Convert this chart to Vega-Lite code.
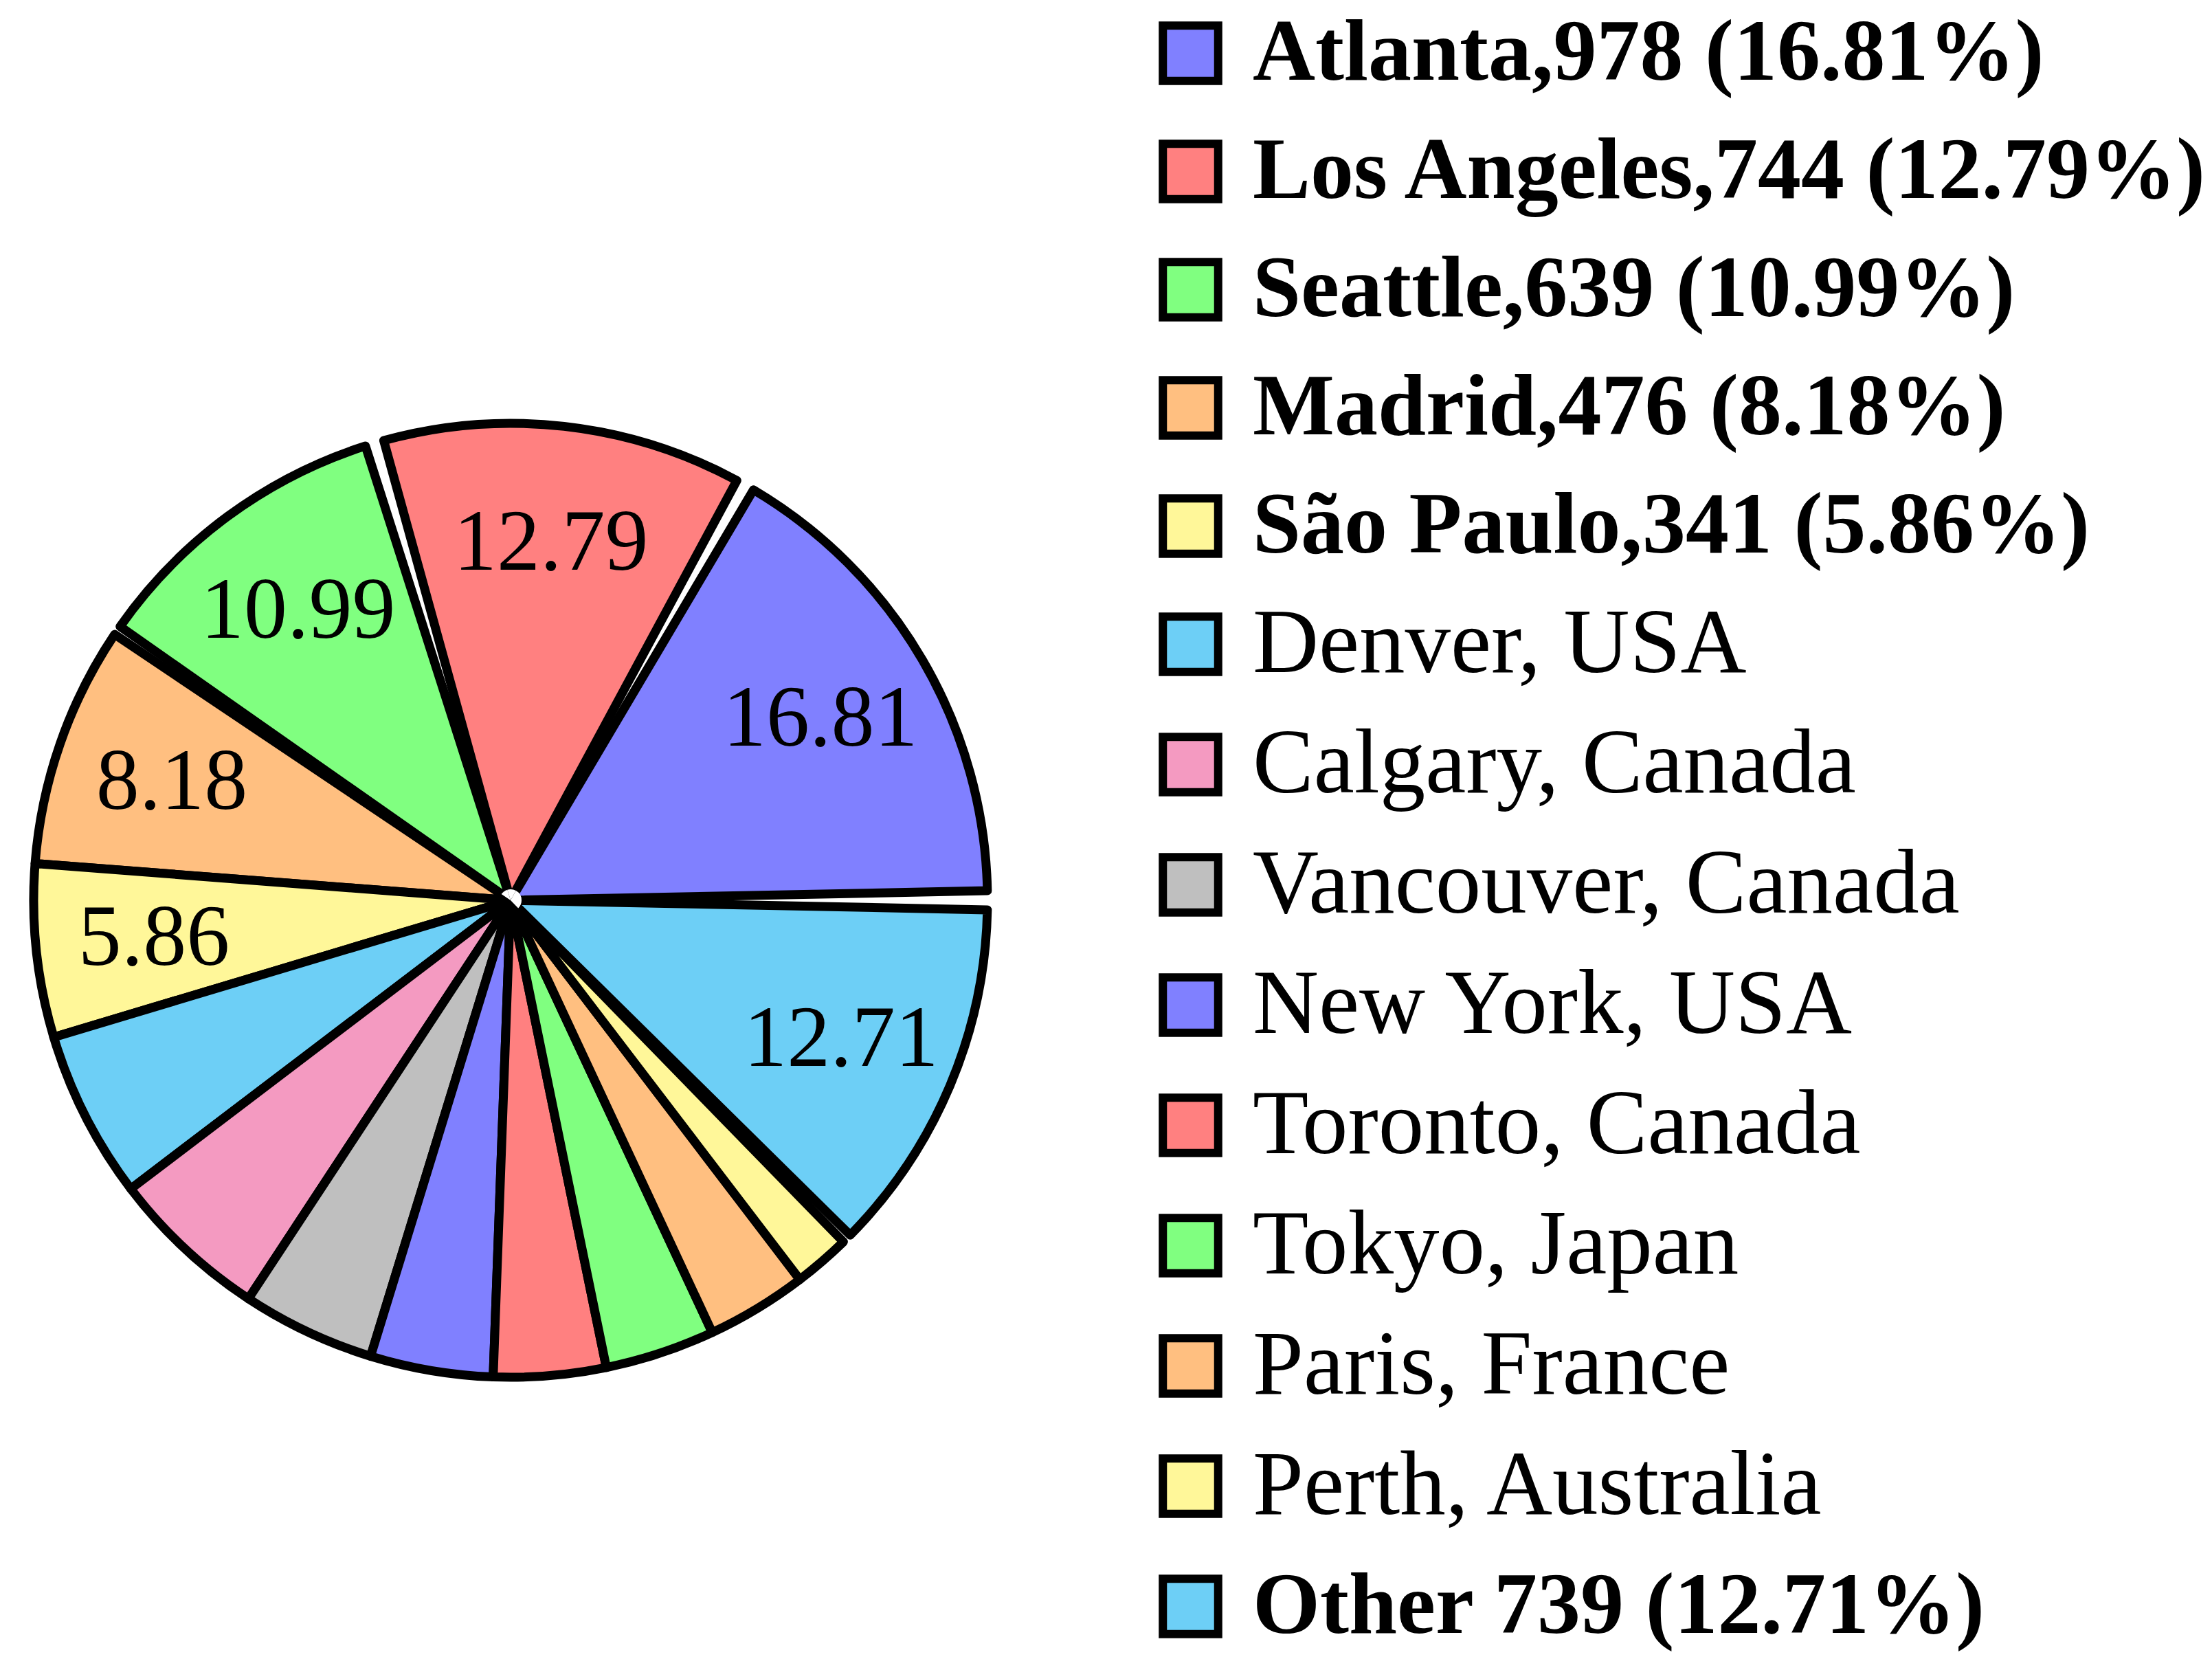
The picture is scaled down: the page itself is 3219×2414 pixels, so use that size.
{
  "$schema": "https://vega.github.io/schema/vega-lite/v6.json",
  "width": 1400,
  "height": 1400,
  "autosize": "none",
  "padding": {"left": 43, "top": 610, "right": 1776, "bottom": 404},
  "background": "white",
  "config": {"font": "Liberation Serif", "view": {"stroke": null}},
  "data": {
    "values": [
      {"rank": 1, "name": "Atlanta,978 (16.81%)", "count": 978, "pct": "16.81"},
      {"rank": 2, "name": "Los Angeles,744 (12.79%)", "count": 744, "pct": "12.79"},
      {"rank": 3, "name": "Seattle,639 (10.99%)", "count": 639, "pct": "10.99"},
      {"rank": 4, "name": "Madrid,476 (8.18%)", "count": 476, "pct": "8.18"},
      {"rank": 5, "name": "São Paulo,341 (5.86%)", "count": 341, "pct": "5.86"},
      {"rank": 6, "name": "Denver, USA", "count": 332, "pct": ""},
      {"rank": 7, "name": "Calgary, Canada", "count": 314, "pct": ""},
      {"rank": 8, "name": "Vancouver, Canada", "count": 263, "pct": ""},
      {"rank": 9, "name": "New York, USA", "count": 242, "pct": ""},
      {"rank": 10, "name": "Toronto, Canada", "count": 221, "pct": ""},
      {"rank": 11, "name": "Tokyo, Japan", "count": 217, "pct": ""},
      {"rank": 12, "name": "Paris, France", "count": 199, "pct": ""},
      {"rank": 13, "name": "Perth, Australia", "count": 112, "pct": ""},
      {"rank": 14, "name": "Other 739 (12.71%)", "count": 739, "pct": "12.71"}
    ]
  },
  "encoding": {
    "theta": {"field": "count", "type": "quantitative", "stack": true, "scale": {"domain": [0, 5817], "range": [1.5707963, -4.712389]}},
    "order": {"field": "rank", "type": "quantitative"}
  },
  "layer": [
    {
      "mark": {"type": "arc", "outerRadius": 694, "stroke": "black", "strokeWidth": 13, "strokeJoin": "round"},
      "encoding": {
        "color": {
          "field": "name", "type": "nominal",
          "scale": {
            "domain": ["Atlanta,978 (16.81%)", "Los Angeles,744 (12.79%)", "Seattle,639 (10.99%)", "Madrid,476 (8.18%)", "São Paulo,341 (5.86%)", "Denver, USA", "Calgary, Canada", "Vancouver, Canada", "New York, USA", "Toronto, Canada", "Tokyo, Japan", "Paris, France", "Perth, Australia", "Other 739 (12.71%)"],
            "range": ["#8080ff", "#ff8080", "#80ff80", "#ffbf80", "#fff799", "#6dcff6", "#f49ac1", "#bfbfbf", "#8080ff", "#ff8080", "#80ff80", "#ffbf80", "#fff799", "#6dcff6"]
          },
          "legend": {
            "title": null, "orient": "none", "legendX": 1623, "legendY": -599, "padding": 0,
            "symbolType": "square", "symbolSize": 6480, "symbolStrokeWidth": 12, "symbolStrokeColor": "black", "symbolOpacity": 1,
            "labelFont": "Liberation Serif", "labelColor": "black", "labelLimit": 3000, "labelOffset": 24,
            "labelFontSize": {"expr": "test(/[0-9]/, datum.label) ? 126 : 133"},
            "labelFontWeight": {"expr": "test(/[0-9]/, datum.label) ? 'bold' : 'normal'"},
            "rowPadding": 41
          }
        },
        "opacity": {"condition": {"test": "datum.rank <= 3 || datum.rank == 14", "value": 0}, "value": 1}
      }
    },
    {
      "mark": {"type": "arc", "outerRadius": 694, "padAngle": 0.04, "stroke": "black", "strokeWidth": 13, "strokeJoin": "round"},
      "encoding": {
        "color": {"field": "name", "type": "nominal"},
        "opacity": {"condition": {"test": "datum.rank <= 3 || datum.rank == 14", "value": 1}, "value": 0}
      }
    },
    {
      "mark": {"type": "arc", "outerRadius": 16, "fill": "white"},
      "encoding": {
        "detail": {"field": "name"},
        "opacity": {"condition": {"test": "datum.rank <= 3 || datum.rank == 14", "value": 1}, "value": 0}
      }
    },
    {
      "mark": {"type": "text", "radius": 522, "fontSize": 126, "font": "Liberation Serif", "color": "black", "align": "center", "baseline": "middle"},
      "encoding": {
        "detail": {"field": "name"},
        "text": {"field": "pct"}
      }
    }
  ]
}
